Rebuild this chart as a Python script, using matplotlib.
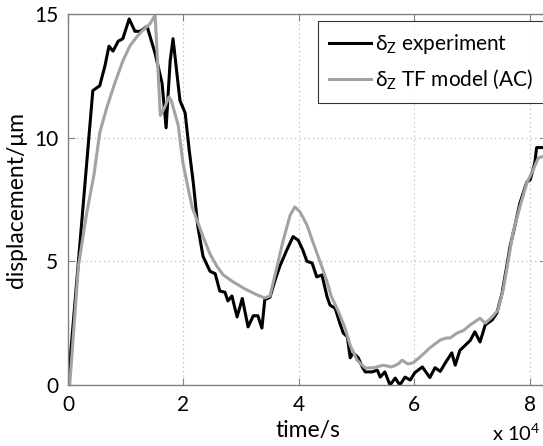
import matplotlib
matplotlib.use('Agg')
import matplotlib.pyplot as plt

# time in units of 1e4 s, displacement in um
t_exp = [0.00, 0.43, 0.55, 0.64, 0.71, 0.78, 0.87, 0.95, 1.06, 1.16, 1.25, 1.37,
         1.51, 1.63, 1.70, 1.77, 1.82, 1.94, 2.03, 2.10, 2.17, 2.25, 2.34, 2.46,
         2.55, 2.63, 2.72, 2.77, 2.84, 2.93, 3.02, 3.12, 3.21, 3.29, 3.36, 3.41,
         3.50, 3.59, 3.67, 3.79, 3.90, 3.99, 4.07, 4.14, 4.23, 4.31, 4.40, 4.49,
         4.54, 4.63, 4.71, 4.77, 4.84, 4.89, 4.94, 5.03, 5.10, 5.15, 5.27, 5.36,
         5.41, 5.49, 5.58, 5.67, 5.75, 5.84, 5.93, 6.01, 6.14, 6.27, 6.36, 6.45,
         6.54, 6.65, 6.71, 6.79, 6.88, 6.97, 7.05, 7.14, 7.23, 7.35, 7.43, 7.52,
         7.61, 7.66, 7.75, 7.83, 7.95, 8.01, 8.09, 8.12, 8.30]
y_exp = [0.00, 11.9, 12.1, 12.9, 13.7, 13.5, 13.9, 14.0, 14.8, 14.3, 14.3, 14.5,
         13.4, 12.2, 10.4, 13.1, 14.0, 11.5, 11.0, 9.5, 8.2, 6.4, 5.2, 4.6,
         4.5, 3.8, 3.75, 3.4, 3.6, 2.75, 3.5, 2.35, 2.8, 2.8, 2.3, 3.45,
         3.55, 4.25, 4.8, 5.45, 6.0, 5.85, 5.45, 5.0, 4.93, 4.37, 4.45, 3.56,
         3.23, 3.1, 2.5, 2.1, 1.95, 1.1, 1.3, 1.1, 0.73, 0.53, 0.53, 0.6,
         0.32, 0.53, 0.0, 0.28, 0.0, 0.32, 0.2, 0.5, 0.73, 0.3, 0.7, 0.55,
         0.9, 1.3, 0.8, 1.4, 1.6, 1.8, 2.15, 1.74, 2.43, 2.63, 2.9, 3.7,
         4.9, 5.6, 6.5, 7.35, 8.2, 8.3, 9.0, 9.6, 9.6]

t_mod = [0.03, 0.18, 0.32, 0.45, 0.55, 0.67, 0.81, 0.95, 1.07, 1.20, 1.30, 1.42,
         1.51, 1.60, 1.67, 1.75, 1.79, 1.91, 1.99, 2.06, 2.15, 2.23, 2.34, 2.46,
         2.58, 2.69, 2.86, 3.07, 3.28, 3.41, 3.50, 3.62, 3.73, 3.85, 3.93, 4.02,
         4.14, 4.25, 4.37, 4.49, 4.56, 4.68, 4.80, 4.89, 5.01, 5.15, 5.30, 5.46,
         5.61, 5.72, 5.79, 5.89, 5.98, 6.10, 6.27, 6.45, 6.55, 6.62, 6.74, 6.85,
         6.97, 7.14, 7.23, 7.35, 7.45, 7.54, 7.63, 7.71, 7.83, 7.95, 8.06, 8.15,
         8.30]
y_mod = [0.00, 4.8, 6.9, 8.5, 10.2, 11.2, 12.2, 13.1, 13.7, 14.1, 14.35, 14.6,
         14.96, 10.9, 11.2, 11.65, 11.5, 10.5, 9.0, 8.2, 7.2, 6.7, 6.0, 5.3,
         4.8, 4.45, 4.17, 3.88, 3.64, 3.52, 3.6, 4.77, 5.86, 6.87, 7.2, 7.0,
         6.47, 5.74, 4.97, 4.17, 3.6, 3.0, 2.3, 1.6, 1.0, 0.69, 0.7, 0.8,
         0.73, 0.85, 1.0, 0.85, 0.9, 1.13, 1.5, 1.82, 1.9, 1.9, 2.1, 2.2,
         2.43, 2.7, 2.5, 2.75, 3.03, 3.84, 5.05, 6.15, 7.2, 8.17, 8.7, 9.18,
         9.3]

x_ticks = [0, 2, 4, 6, 8]
y_ticks = [0, 5, 10, 15]

plt.rcParams['font.family'] = ['Lato', 'DejaVu Sans']
plt.rcParams['mathtext.fontset'] = 'custom'
plt.rcParams['mathtext.rm'] = 'Lato'
plt.rcParams['mathtext.default'] = 'regular'

W, H = 543, 446
fig = plt.figure(figsize=(W / 100, H / 100), dpi=100)
# axes: left at px 68, bottom at px 385, top at px 14, extends past right edge
ax = fig.add_axes([68 / W, 1 - 385 / H, 479 / W, 371 / H])

ax.plot(t_exp, y_exp, color='black', lw=2.2, label='\u03b4$_Z$ experiment')
ax.plot(t_mod, y_mod, color='#a3a3a3', lw=2.2, label='\u03b4$_Z$ TF model (AC)')

ax.set_xlim(0, 8.3)
ax.set_ylim(0, 15)
ax.set_xticks(x_ticks)
ax.set_yticks(y_ticks)
ax.grid(True, linestyle=(0, (1, 3)), color='#b0b0b0', lw=0.8)
ax.tick_params(direction='in', top=True, right=True, labelsize=15,
               length=5, color='#808080', pad=7)
for s in ax.spines.values():
    s.set_color('#808080')
    s.set_linewidth(1.0)

ax.set_xlabel('time/s', fontsize=16.5, labelpad=4)
ax.set_ylabel('displacement/\u03bcm', fontsize=16.5, labelpad=5)
fig.text(492 / W, 1 - 433 / H, 'x 10$^4$', fontsize=14.5, va='center', ha='left')

leg = ax.legend(loc='upper left', bbox_to_anchor=(0.522, 0.982), borderaxespad=0,
                fontsize=15, frameon=True, fancybox=False, handlelength=2.0,
                borderpad=0.55, labelspacing=0.55, handletextpad=0.2)
leg.get_frame().set_edgecolor('black')
leg.get_frame().set_linewidth(0.8)

fig.savefig('out.png', dpi=100)
